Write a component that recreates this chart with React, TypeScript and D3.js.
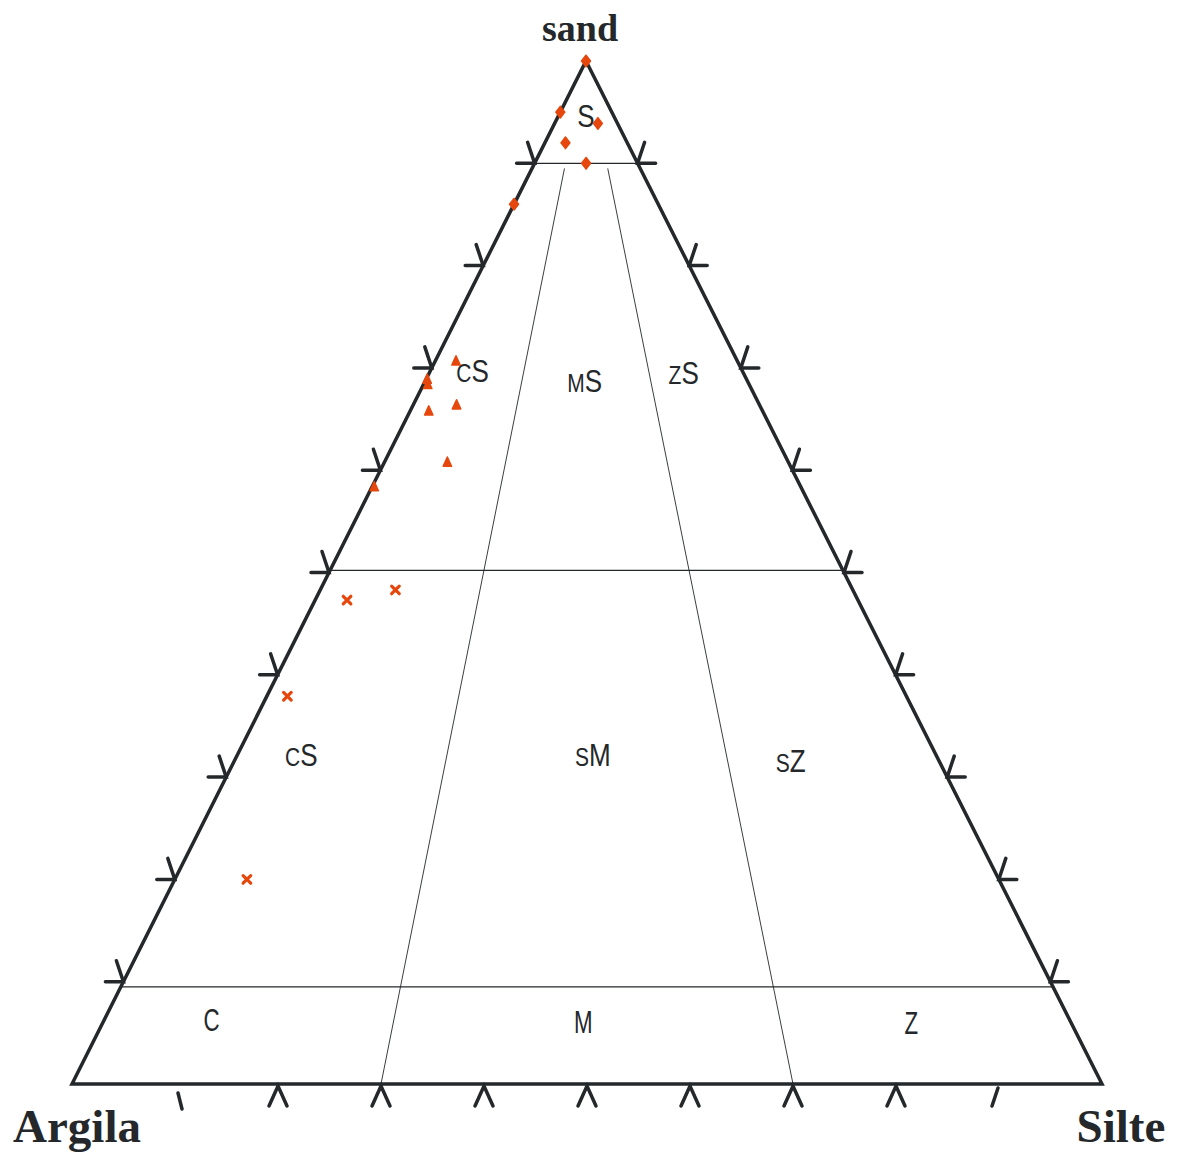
import React from 'react';
import * as d3 from 'd3';

// ---- data (percent: [sand, silt, clay]) ----
const sandSamples: number[][] = [
  [100, 0, 0], [95, 0, 5], [93.9, 4.2, 1.9], [92, 2, 6], [90, 5, 5], [86, 0, 14],
];
const clayeySandUpper: number[][] = [
  [70.7, 2.0, 27.3], [68.9, 0.1, 31.0], [68.4, 0.4, 31.2], [65.8, 1.8, 32.4],
  [66.4, 4.2, 29.4], [60.8, 6.1, 33.1], [58.4, 0.2, 41.4],
];
const clayeySandLower: number[][] = [
  [48.3, 7.3, 44.4], [47.3, 3.1, 49.6], [37.9, 2.0, 60.1], [20.0, 7.0, 73.0],
];
const tickValues = [10, 20, 30, 40, 50, 60, 70, 80, 90];
const sandBoundaries = [90, 50.2, 9.5];
const siltRatioBoundaries = [30, 70];
// class labels: [prefix, main, sand, silt, clay]
const classLabels: [string, string, number, number, number][] = [
  ['', 'S', 94.6, 2.7, 2.7],
  ['c', 'S', 69.7, 4.1, 26.2],
  ['m', 'S', 68.7, 15.5, 15.8],
  ['z', 'S', 69.5, 24.7, 5.8],
  ['c', 'S', 32.2, 6.2, 61.6],
  ['s', 'M', 32.2, 34.5, 33.3],
  ['s', 'Z', 31.6, 54.0, 14.4],
];
const baseLabels: [string, number, number, number][] = [
  ['C', 6.3, 10.4, 83.3],
  ['M', 6.1, 46.6, 47.3],
  ['Z', 6.0, 78.5, 15.5],
];
const axisTitles = { top: 'sand', left: 'Argila', right: 'Silte' };

// ---- layout ----
const W = 1180, H = 1153;
const apex = { x: 586, y: 61 };
const left = { x: 72, y: 1084 };
const right = { x: 1102, y: 1084 };
const ink = '#24282b';
const orange = '#e6470d';

const yScale = d3.scaleLinear().domain([0, 100]).range([left.y, apex.y]);
const baseX = d3.scaleLinear().domain([0, 100]).range([left.x, right.x]);

function proj(sand: number, silt: number, clay: number): [number, number] {
  const t = sand + silt + clay;
  const s = (sand / t) * 100, z = (silt / t) * 100, c = (clay / t) * 100;
  const x = (left.x * c + right.x * z + apex.x * s) / 100;
  return [x, yScale(s)];
}

const line = d3.line<[number, number]>();

export default function App() {
  const tickLen = 18;
  const armL: [number, number] = [-7, -21];
  return (
    <svg width={W} height={H} style={{ position: 'absolute', left: 0, top: 0, background: '#fff' }}>
      {/* region boundaries */}
      {sandBoundaries.map((s) => {
        const a = proj(s, 0, 100 - s), b = proj(s, 100 - s, 0);
        return <path key={'h' + s} d={line([a, b])!} stroke={ink} strokeWidth={1.2} fill="none" />;
      })}
      {siltRatioBoundaries.map((r) => {
        const top = 89.5;
        const a = proj(top, (100 - top) * r / 100, (100 - top) * (1 - r / 100));
        const b = proj(0, r, 100 - r);
        return <path key={'r' + r} d={line([a, b])!} stroke={ink} strokeWidth={0.9} fill="none" />;
      })}
      {/* triangle outline */}
      <path d={line([[apex.x, apex.y], [right.x, right.y], [left.x, left.y]])! + 'Z'}
        stroke={ink} strokeWidth={3.5} fill="none" strokeLinejoin="miter" />
      {/* ticks */}
      <g stroke={ink} strokeWidth={3.5} strokeLinecap="round" fill="none">
        {tickValues.map((v) => {
          const [x, y] = proj(v, 0, 100 - v);
          return <path key={'tl' + v} d={`M${x - tickLen},${y}L${x},${y}L${x + armL[0]},${y + armL[1]}`} />;
        })}
        {tickValues.map((v) => {
          const [x, y] = proj(v, 100 - v, 0);
          return <path key={'tr' + v} d={`M${x + tickLen},${y}L${x},${y}L${x - armL[0]},${y + armL[1]}`} />;
        })}
        {tickValues.map((v) => {
          const x = baseX(v), y = left.y;
          if (v === 10) return <path key={'tb' + v} d={`M${x + 3},${y + 9}L${x + 7},${y + 25}`} />;
          if (v === 90) return <path key={'tb' + v} d={`M${x - 1},${y + 4}L${x - 7},${y + 22}`} />;
          return <path key={'tb' + v} d={`M${x - 9},${y + 22}L${x},${y + 2}L${x + 9},${y + 22}`} />;
        })}
      </g>
      {/* class labels */}
      <g fill={ink} fontFamily="'Liberation Sans', Arial, sans-serif" fontSize={31}>
        {classLabels.map(([p, m, s, z, c], i) => {
          const [x, y] = proj(s, z, c);
          return (
            <text key={'cl' + i} textAnchor="middle" transform={`translate(${x},${y}) scale(0.84,1)`} dy="0.36em">
              {p && <tspan fontSize={25} style={{ textTransform: 'uppercase' }}>{p}</tspan>}
              <tspan>{m}</tspan>
            </text>
          );
        })}
        {baseLabels.map(([m, s, z, c], i) => {
          const [x, y] = proj(s, z, c);
          return (
            <text key={'bl' + i} textAnchor="middle" transform={`translate(${x},${y}) scale(0.72,1)`} dy="0.36em">{m}</text>
          );
        })}
      </g>
      {/* samples */}
      <g fill={orange} stroke={orange} strokeWidth={1.5} strokeLinejoin="round">
        {sandSamples.map((d, i) => {
          const [x, y] = proj(d[0], d[1], d[2]);
          return <path key={'d' + i} transform={`translate(${x},${y})`} d="M0,-5.8L4.5,0L0,5.8L-4.5,0Z" />;
        })}
        {clayeySandUpper.map((d, i) => {
          const [x, y] = proj(d[0], d[1], d[2]);
          return <path key={'t' + i} transform={`translate(${x},${y})`} d="M0,-5L4.2,4.2L-4.2,4.2Z" />;
        })}
      </g>
      <g stroke={orange} strokeWidth={3.2} strokeLinecap="round">
        {clayeySandLower.map((d, i) => {
          const [x, y] = proj(d[0], d[1], d[2]);
          return <path key={'x' + i} transform={`translate(${x},${y})`} d="M-3.8,-3.8L3.8,3.8M-3.8,3.8L3.8,-3.8" />;
        })}
      </g>
      {/* axis titles */}
      <g fill={ink} fontFamily="'Liberation Serif', 'Times New Roman', serif" fontWeight="bold">
        <text x={580} y={41} fontSize={38} textAnchor="middle">{axisTitles.top}</text>
        <text x={77} y={1142} fontSize={47} textAnchor="middle">{axisTitles.left}</text>
        <text x={1121} y={1142} fontSize={47} textAnchor="middle">{axisTitles.right}</text>
      </g>
    </svg>
  );
}
